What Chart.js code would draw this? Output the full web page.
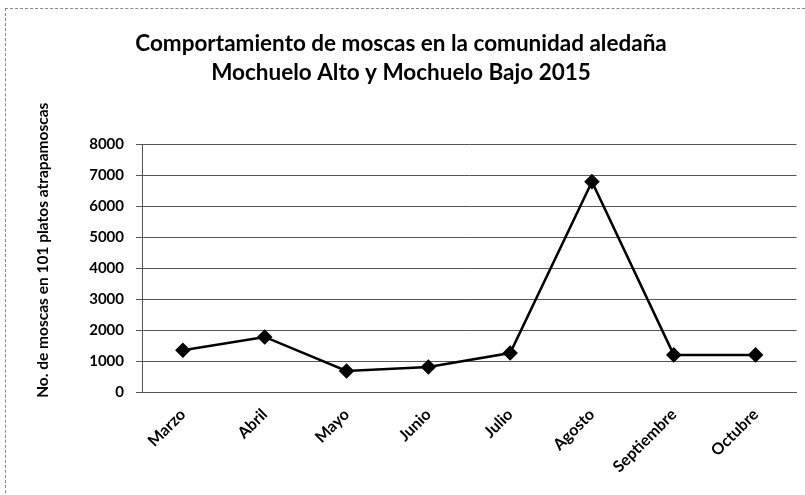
<!DOCTYPE html>
<html><head><meta charset="utf-8">
<script src="https://cdn.jsdelivr.net/npm/chart.js@4/dist/chart.umd.min.js"></script>
<style>
html,body{margin:0;padding:0;background:#fff;}
#wrap{position:absolute;left:5px;top:8px;width:805px;height:495px;border-left:1px dashed #888;border-top:1px dashed #888;box-sizing:border-box;}
#c{position:absolute;left:0;top:0;}
</style></head>
<body>
<div id="wrap"></div>
<canvas id="c" width="805" height="495"></canvas>
<script>
const categories = ["Marzo","Abril","Mayo","Junio","Julio","Agosto","Septiembre","Octubre"];
const moscas = [1350, 1780, 680, 810, 1260, 6800, 1200, 1200];
const yTicks = [0,1000,2000,3000,4000,5000,6000,7000,8000];
const titleLines = ["Comportamiento de moscas en la comunidad aledaña","Mochuelo Alto y Mochuelo Bajo 2015"];
const yTitle = "No. de moscas en 101 platos atrapamoscas";

const FONT = "Lato, 'Open Sans', sans-serif";

// Y-axis title drawn as text, placed like the reference (slightly above the plot centre)
const yTitlePlugin = {
  id: 'yTitle',
  afterDraw(chart) {
    const ctx = chart.ctx;
    const area = chart.chartArea;
    ctx.save();
    ctx.translate(43, (area.top + area.bottom) / 2 - 18);
    ctx.rotate(-Math.PI / 2);
    ctx.font = "bold 15.5px " + FONT;
    ctx.fillStyle = '#000';
    ctx.textAlign = 'center';
    ctx.textBaseline = 'middle';
    ctx.fillText(yTitle, 0, 0);
    ctx.restore();
  }
};

new Chart(document.getElementById('c'), {
  type: 'line',
  data: {
    labels: categories,
    datasets: [{
      data: moscas,
      borderColor: '#000',
      backgroundColor: '#000',
      borderWidth: 2.5,
      pointStyle: 'rectRot',
      pointRadius: 6,
      pointHoverRadius: 6,
      tension: 0
    }]
  },
  plugins: [yTitlePlugin],
  options: {
    responsive: false,
    animation: false,
    devicePixelRatio: 1,
    layout: {padding: {left: 5, right: 8, top: 29, bottom: 0}},
    plugins: {
      legend: {display: false},
      tooltip: {enabled: false},
      title: {
        display: true,
        text: titleLines,
        color: '#000',
        font: {family: FONT, size: 22.5, weight: 'bold', lineHeight: 1.3},
        padding: {top: 0, bottom: 57}
      }
    },
    scales: {
      x: {
        offset: true,
        afterFit: (s) => { s.height = 103; },
        grid: {display: false, drawTicks: false},
        border: {display: true, color: '#555', width: 1},
        ticks: {
          color: '#000',
          font: {family: FONT, size: 16, weight: 'bold'},
          maxRotation: 45, minRotation: 45,
          padding: 13
        }
      },
      y: {
        min: 0, max: 8000,
        afterBuildTicks: (s) => { s.ticks = yTicks.map(v => ({value: v})); },
        afterFit: (s) => { s.width = 137; },
        grid: {color: '#555', lineWidth: 1, drawTicks: true, tickLength: 6},
        border: {display: true, color: '#555', width: 1},
        ticks: {
          color: '#000',
          font: {family: FONT, size: 15, weight: 'bold'},
          padding: 12,
          callback: (v) => String(v)
        },
        title: {display: false}
      }
    }
  }
});
</script>
</body></html>
